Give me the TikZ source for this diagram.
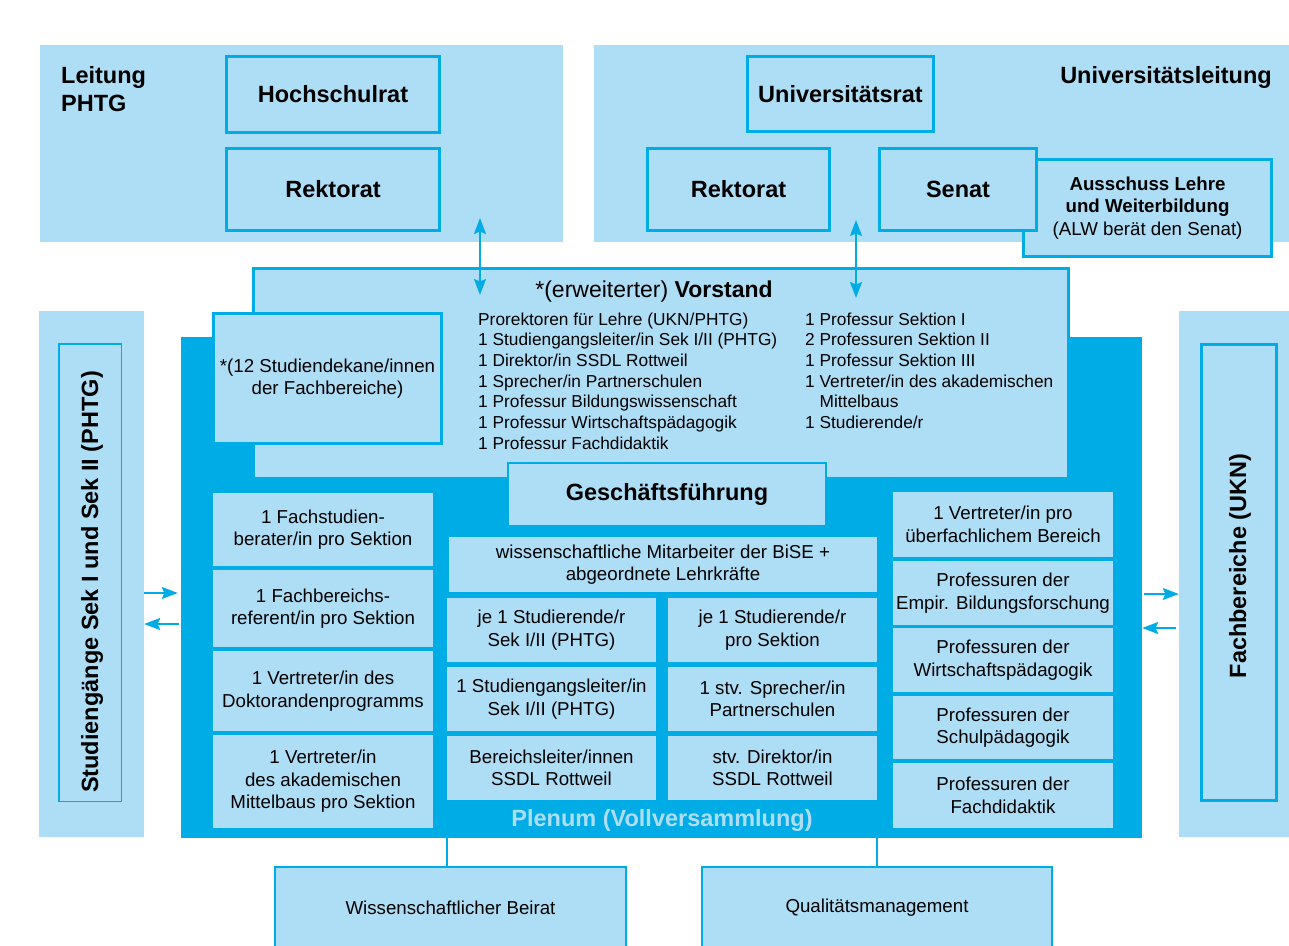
\documentclass[tikz,border=0pt]{standalone}
\usepackage{fontspec}
\setmainfont{Liberation Sans}
\usetikzlibrary{arrows.meta}
\definecolor{lb}{HTML}{AEDEF5}
\definecolor{db}{HTML}{00ACE6}
\begin{document}
\begin{tikzpicture}[x=1pt,y=-1pt,
  panel/.style={fill=lb, draw=none, inner sep=0},
  obox/.style={fill=lb, draw=db, line width=3pt, inner sep=0, align=center},
  cell/.style={fill=lb, draw=none, inner sep=0, align=center, font=\fontsize{18.7}{22.5}\selectfont},
  hd/.style={font=\fontsize{23.5}{28}\selectfont\bfseries},
  rg/.style={font=\fontsize{18.7}{22.5}\selectfont},
  lst/.style={inner sep=0, align=left, anchor=north west, font=\fontsize{17.3}{20.7}\selectfont},
  arr/.style={draw=db, line width=1.5pt, -{Stealth[length=16pt 0 0,width=12pt 0 0,inset=2.5pt 0]}},
  darr/.style={draw=db, line width=1.5pt, {Stealth[length=16pt 0 0,width=12pt 0 0,inset=2.5pt 0]}-{Stealth[length=16pt 0 0,width=12pt 0 0,inset=2.5pt 0]}},
  link/.style={draw=db, line width=2pt}
]
\useasboundingbox (0,0) rectangle (1289,945);

% top panels
\node[panel, minimum width=523, minimum height=197] (pL) at (301.5,143.5) {};
\node[panel, minimum width=695, minimum height=197] (pR) at (941.5,143.5) {};
\node[hd, inner sep=0, align=left, anchor=north west] (leit) at (61,66) {Leitung\\PHTG};
\node[hd, inner sep=0, anchor=base east] (ul) at (1272,83) {Universitätsleitung};

\node[obox, hd, minimum width=213, minimum height=76] (hoch) at (333,94.5) {Hochschulrat};
\node[obox, hd, minimum width=213, minimum height=82] (rekL) at (333,189.5) {Rektorat};
\node[obox, hd, minimum width=186, minimum height=75] (unirat) at (840.5,94) {Universitätsrat};
\node[obox, hd, minimum width=182, minimum height=82] (rekR) at (738.5,189.5) {Rektorat};
\node[obox, rg, minimum width=248, minimum height=97] (alw) at (1147.5,208) {\textbf{Ausschuss Lehre}\\\textbf{und Weiterbildung}\\(ALW berät den Senat)};
\node[obox, hd, minimum width=157, minimum height=82] (senat) at (958,189.5) {Senat};

% side panels
\node[panel, minimum width=105, minimum height=526] (sP) at (91.5,574) {};
\node[fill=lb, draw=db, line width=1.5pt, inner sep=0, minimum width=62.5, minimum height=457.5] (sB) at (90,572.5) {};
\node[hd, inner sep=0, rotate=90] (sT) at (92,582) {Studiengänge Sek I und Sek II (PHTG)};

\node[panel, minimum width=110, minimum height=526] (fP) at (1234,574) {};
\node[fill=lb, draw=db, line width=3pt, inner sep=0, minimum width=75, minimum height=456] (fB) at (1239,572.5) {};
\node[hd, inner sep=0, rotate=90] (fT) at (1240,566) {Fachbereiche (UKN)};

% plenum background
\node[fill=db, draw=none, inner sep=0, minimum width=961, minimum height=501] (pl) at (661.5,587.5) {};

% Vorstand
\node[obox, minimum width=815, minimum height=210] (vor) at (661,373.5) {};
\node[inner sep=0, anchor=base, font=\fontsize{23}{28}\selectfont] (vt) at (654,297) {*(erweiterter) \textbf{Vorstand}};
\node[lst] (l1) at (478,312.4) {Prorektoren für Lehre (UKN/PHTG)\\1 Studiengangsleiter/in Sek I/II (PHTG)\\1 Direktor/in SSDL Rottweil\\1 Sprecher/in Partnerschulen\\1 Professur Bildungswissenschaft\\1 Professur Wirtschaftspädagogik\\1 Professur Fachdidaktik};
\node[lst] (l2) at (805,312.4) {1 Professur Sektion I\\2 Professuren Sektion II\\1 Professur Sektion III\\1 Vertreter/in des akademischen\\\hphantom{1\ }Mittelbaus\\1 Studierende/r};
\node[obox, rg, minimum width=228, minimum height=130] (dek) at (327.5,378.5) {*(12 Studiendekane/innen\\der Fachbereiche)};
\node[obox, hd, line width=2pt, minimum width=318, minimum height=63] (gf) at (667,494.5) {Geschäftsführung};

% left column
\node[cell, minimum width=220, minimum height=73] (lc1) at (323,529.5) {1 Fachstudien-\\berater/in pro Sektion};
\node[cell, minimum width=220, minimum height=77] (lc2) at (323,608.5) {1 Fachbereichs-\\referent/in pro Sektion};
\node[cell, minimum width=220, minimum height=80] (lc3) at (323,691) {1 Vertreter/in des\\Doktorandenprogramms};
\node[cell, minimum width=220, minimum height=93] (lc4) at (323,781.5) {1 Vertreter/in\\des akademischen\\Mittelbaus pro Sektion};

% middle
\node[cell, minimum width=428, minimum height=55] (wiss) at (663,564.5) {wissenschaftliche Mitarbeiter der BiSE +\\abgeordnete Lehrkräfte};
\node[cell, minimum width=209, minimum height=64] (m2l) at (551.5,630) {je 1 Studierende/r\\Sek I/II (PHTG)};
\node[cell, minimum width=209, minimum height=64] (m2r) at (772.5,630) {je 1 Studierende/r\\pro Sektion};
\node[cell, minimum width=209, minimum height=64] (m3l) at (551.5,699) {1 Studiengangsleiter/in\\Sek I/II (PHTG)};
\node[cell, minimum width=209, minimum height=64] (m3r) at (772.5,699) {1 stv. Sprecher/in\\Partnerschulen};
\node[cell, minimum width=209, minimum height=64] (m4l) at (551.5,768) {Bereichsleiter/innen\\SSDL Rottweil};
\node[cell, minimum width=209, minimum height=64] (m4r) at (772.5,768) {stv. Direktor/in\\SSDL Rottweil};

% right column
\node[cell, minimum width=220, minimum height=65] (r1) at (1003,524.5) {1 Vertreter/in pro\\überfachlichem Bereich};
\node[cell, minimum width=220, minimum height=64] (r2) at (1003,593) {Professuren der\\Empir. Bildungsforschung};
\node[cell, minimum width=220, minimum height=64] (r3) at (1003,660) {Professuren der\\Wirtschaftspädagogik};
\node[cell, minimum width=220, minimum height=63] (r4) at (1003,727.5) {Professuren der\\Schulpädagogik};
\node[cell, minimum width=220, minimum height=65] (r5) at (1003,795.5) {Professuren der\\Fachdidaktik};

\node[hd, inner sep=0, text=lb] (plt) at (662,820) {Plenum (Vollversammlung)};

% bottom boxes
\node[fill=lb, draw=db, line width=2pt, inner sep=0, rg, minimum width=351, minimum height=82] (beir) at (450.5,908) {Wissenschaftlicher Beirat};
\node[fill=lb, draw=db, line width=2pt, inner sep=0, rg, minimum width=350, minimum height=82] (qual) at (877,908) {Qualitätsmanagement};

% helper coordinates
\coordinate (x447) at (447,0);
\coordinate (x877) at (877,0);
\coordinate (y593) at (0,593);
\coordinate (y624) at (0,624);
\coordinate (y594) at (0,594);
\coordinate (y628) at (0,628);
\coordinate (va1) at (480,218);
\coordinate (va2) at (480,295);
\coordinate (vb1) at (856,220);
\coordinate (vb2) at (856,298);

\draw[link] (pl.south -| x447) -- (beir.north -| x447);
\draw[link] (pl.south -| x877) -- (qual.north -| x877);

\draw[darr] (va1) -- (va2);
\draw[darr] (vb1) -- (vb2);

\draw[arr, shorten >=3pt] (sP.east |- y593) -- (pl.west |- y593);
\draw[arr, shorten <=2pt] (pl.west |- y624) -- (sP.east |- y624);
\draw[arr, shorten <=2pt] (pl.east |- y594) -- (fP.west |- y594);
\draw[arr, shorten <=3pt] (fP.west |- y628) -- (pl.east |- y628);
\end{tikzpicture}
\end{document}
